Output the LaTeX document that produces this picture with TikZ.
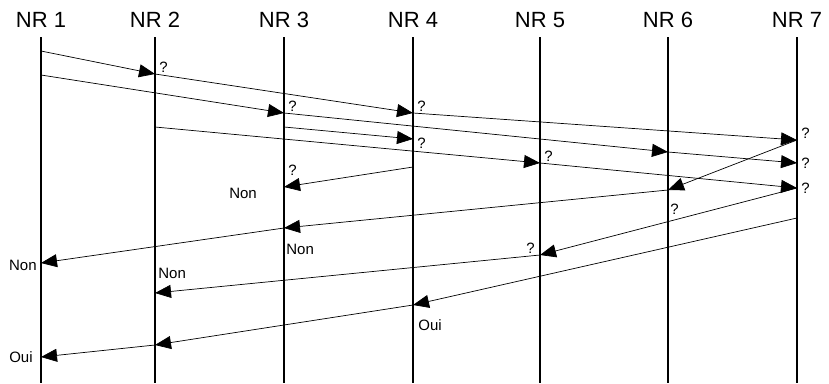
\documentclass[tikz,border=0pt]{standalone}
\usepackage{fontspec}
\setmainfont{Liberation Sans}
\usetikzlibrary{arrows.meta, positioning}

\begin{document}
\begin{tikzpicture}[
    x=1pt, y=-1pt,
    head/.style={font=\fontsize{22}{24}\selectfont, inner sep=0pt},
    lifeline/.style={line width=1.7pt},
    msg/.style={-{Triangle[length=16pt, width=13pt]}, line width=0.7pt},
    qry/.style={font=\fontsize{15}{16}\selectfont, inner sep=1pt},
    ans/.style={font=\fontsize{15}{16}\selectfont, inner sep=1pt}
]
\useasboundingbox (0,0) rectangle (829,383);

% Routers and their time lines
\foreach \x [count=\i] in {41,155,284,413,540,668,797} {
    \node[head] (nr\i) at (\x,20) {NR \i};
    \coordinate (top\i) at (\x,37);
    \coordinate (bot\i) at (\x,383);
    \draw[lifeline] (top\i) -- (bot\i);
}

% Send / receive instants on each time line
\foreach \n/\i/\y in {1a/1/51, 1b/1/75, 1c/1/263, 1d/1/357,
                      2a/2/74, 2b/2/127, 2c/2/293, 2d/2/345,
                      3a/3/113, 3b/3/127, 3c/3/187, 3d/3/228,
                      4a/4/113, 4b/4/139, 4c/4/167, 4d/4/305,
                      5a/5/163, 5b/5/255,
                      6a/6/152, 6b/6/190,
                      7a/7/140, 7b/7/163, 7c/7/188, 7d/7/218}
    \coordinate (t\n) at (nr\i |- 0,\y);

% Requests
\draw[msg] (t1a) -- (t2a) node[qry, above right=0pt and 3pt] {?};
\draw[msg] (t1b) -- (t3a) node[qry, above right=0pt and 3pt] {?};
\draw[msg] (t2a) -- (t4a) node[qry, above right=0pt and 3pt] {?};
\draw[msg] (t4a) -- (t7a) node[qry, above right=0pt and 3pt] {?};
\draw[msg] (t3a) -- (t6a);
\draw[msg] (t6a) -- (t7b) node[qry, right=3pt] {?};
\draw[msg] (t3b) -- (t4b) node[qry, right=3pt, yshift=-4pt] {?};
\draw[msg] (t2b) -- (t5a) node[qry, above right=0pt and 3pt] {?};
\draw[msg] (t5a) -- (t7c) node[qry, right=3pt] {?};

% Replies
\draw[msg] (t4c) -- (t3c) node[qry, above right=10pt and 3pt] {?};
\node[ans, below left=0pt and 26pt] (n3c) at (t3c) {Non};
\draw[msg] (t7a) -- (t6b) node[qry, below right=13pt and 1pt] {?};
\draw[msg] (t6b) -- (t3d) node[ans, below right=15pt and 1pt] {Non};
\draw[msg] (t3d) -- (t1c) node[ans, left=3pt, yshift=-2pt] {Non};
\draw[msg] (t7c) -- (t5b) node[qry, above left=0pt and 4pt] {?};
\draw[msg] (t5b) -- (t2c) node[ans, above right=13pt and 2pt] {Non};
\draw[msg] (t7d) -- (t4d) node[ans, below right=13pt and 4pt] {Oui};
\draw[msg] (t4d) -- (t2d);
\draw[msg] (t2d) -- (t1d) node[ans, left=7pt] {Oui};

\end{tikzpicture}
\end{document}
